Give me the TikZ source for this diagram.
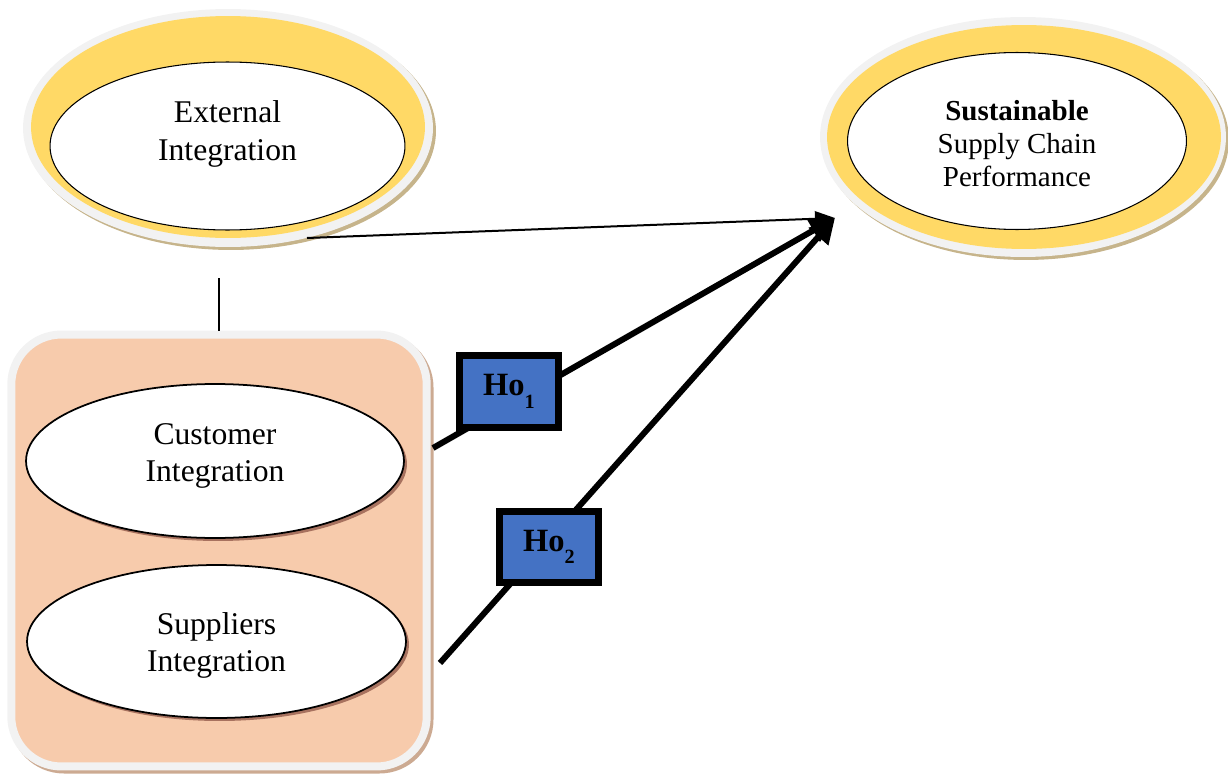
\documentclass[tikz,border=0pt]{standalone}
\usepackage{fontspec}
\setmainfont{Liberation Serif}
\usetikzlibrary{shapes.geometric, arrows.meta, positioning, calc, shadows}

\definecolor{ringYellow}{HTML}{FFD966}
\definecolor{ringGray}{HTML}{F2F2F2}
\definecolor{ringShadow}{HTML}{C6B48B}
\definecolor{boxPeach}{HTML}{F7CBAC}
\definecolor{boxShadow}{HTML}{CCAA92}
\definecolor{ovalShadow}{HTML}{A8725F}
\definecolor{hoBlue}{HTML}{4472C4}

\begin{document}
\begin{tikzpicture}[x=0.02cm, y=-0.02cm]
	\tikzstyle{Ring} = [
		general shadow={shadow xshift=0.06cm, shadow yshift=-0.06cm, fill=ringShadow}
	]
	\tikzstyle{Oval} = [
		ellipse,
		draw=black,
		fill=white,
		align=center,
		inner sep=0pt,
		outer sep=0pt
	]
	\tikzstyle{Hyp} = [
		rectangle,
		draw=black,
		line width=0.14cm,
		fill=hoBlue,
		minimum width=1.98cm,
		minimum height=1.44cm,
		inner sep=0pt,
		font=\fontsize{18.5}{20}\selectfont\bfseries
	]
	\tikzstyle{Path} = [line width=0.12cm, -{Triangle[length=0.5cm, width=0.5cm]}]

	\useasboundingbox (0,0) rectangle (1228,774);

	% rings behind the two top ovals
	\fill[Ring, ringGray] (228,128) ellipse [x radius=4.1cm, y radius=2.38cm];
	\fill[ringYellow] (228,127) ellipse [x radius=3.94cm, y radius=2.22cm];
	\fill[Ring, ringGray] (1023,137) ellipse [x radius=4.06cm, y radius=2.4cm];
	\fill[ringYellow] (1024,137) ellipse [x radius=3.94cm, y radius=2.24cm];

	\node (ext) [Oval, line width=0.6pt, minimum width=7.1cm, minimum height=3.36cm,
		text depth=0.62cm, font=\fontsize{18}{21.6}\selectfont] at (227.5,146) {External\\Integration};
	\node (sscp) [Oval, line width=0.6pt, minimum width=6.78cm, minimum height=3.54cm,
		text height=1.84cm, font=\fontsize{16.5}{19}\selectfont] at (1017,141) {\textbf{Sustainable}\\Supply Chain\\Performance};

	% group box
	\draw[boxShadow, line width=0.16cm, rounded corners=1cm] (14,337.5) rectangle (429.5,769.5);
	\node (grp) [rectangle, rounded corners=1cm, draw=ringGray, line width=0.16cm, fill=boxPeach,
		minimum width=8.31cm, minimum height=8.64cm] at (219,550.5) {};

	\node (cust) [Oval, line width=1pt, minimum width=7.56cm, minimum height=3.08cm, text depth=0.34cm,
		font=\fontsize{18}{21}\selectfont,
		general shadow={shadow xshift=0.06cm, shadow yshift=-0.06cm, fill=ovalShadow}] at (215,461) {Customer\\Integration};
	\node (supp) [Oval, line width=1pt, minimum width=7.58cm, minimum height=3.06cm, text height=1.32cm,
		font=\fontsize{18}{21}\selectfont,
		general shadow={shadow xshift=0.06cm, shadow yshift=-0.06cm, fill=ovalShadow}] at (216.5,641.5) {Suppliers\\Integration};

	\coordinate (linkTop) at (219,278);
	\draw[line width=0.7pt] (linkTop) -- (linkTop |- grp.north);

	\coordinate (extFrom) at (307,238);
	\coordinate (custFrom) at (433,448);
	\coordinate (suppFrom) at (440,663);
	\coordinate (tip) at (835,218);
	\draw[line width=0.04cm, -{Triangle[length=0.4cm, width=0.3cm]}] (extFrom) -- (tip);
	\draw[Path] (custFrom) -- (tip);
	\draw[Path] (suppFrom) -- (tip);

	\node (ho1) [Hyp] at (509,391.5) {Ho\raisebox{-7pt}{\fontsize{11.5}{11.5}\selectfont 1}};
	\node (ho2) [Hyp] at (549,547) {Ho\raisebox{-7pt}{\fontsize{11.5}{11.5}\selectfont 2}};
\end{tikzpicture}
\end{document}
